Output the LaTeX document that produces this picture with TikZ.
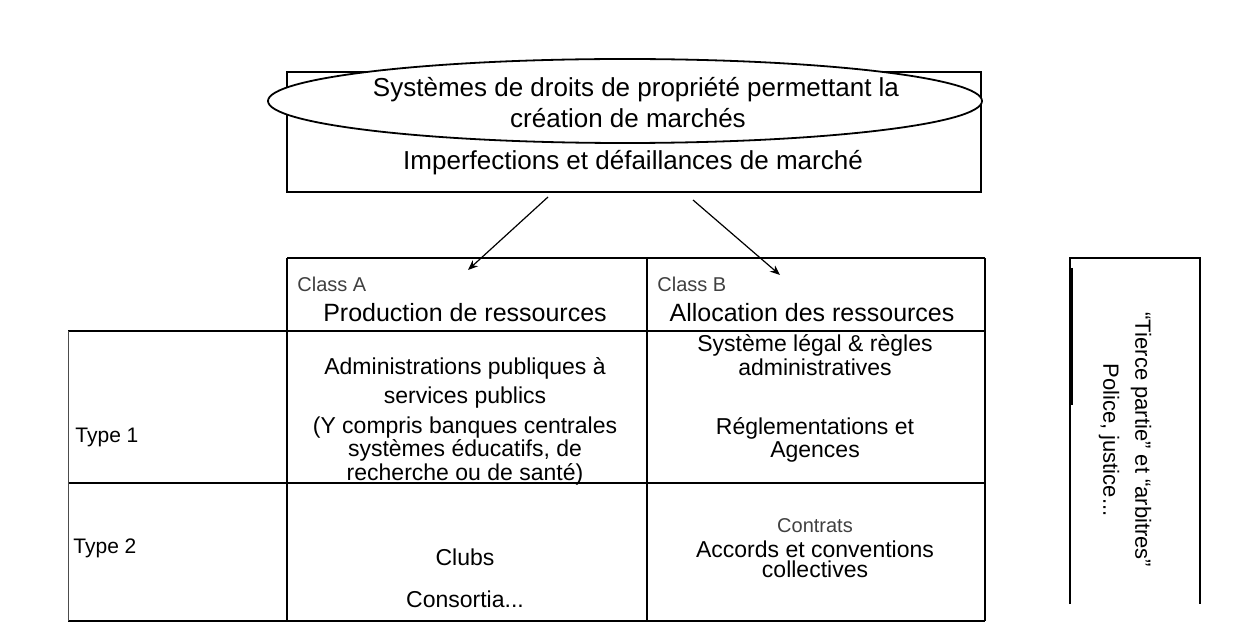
\documentclass[tikz,border=0pt]{standalone}
\usepackage{fontspec}
\setmainfont{Liberation Sans}
\usetikzlibrary{shapes.geometric,arrows.meta}
\begin{document}
\begin{tikzpicture}[x=0.5pt,y=-0.5pt,
  grid/.style={line width=0.9pt,black},
  thin/.style={line width=0.5pt,black!70},
  hand/.style={font=\fontsize{11.5}{10}\selectfont,align=center,inner sep=0pt},
  typed/.style={font=\fontsize{12.5}{14}\selectfont,inner sep=0pt},
  small/.style={font=\fontsize{10}{11}\selectfont,inner sep=0pt,text=black!75},
  arr/.style={-{Stealth[length=5pt,width=4pt]},line width=0.6pt}]
\useasboundingbox (0,0) rectangle (1236,636);
% top box
\node[draw,line width=0.8pt,minimum width=347pt,minimum height=60pt,inner sep=0pt] (box) at (634,132) {};
\node[draw,ellipse,fill=white,line width=0.9pt,minimum width=357pt,minimum height=42pt,inner sep=0pt] (ell) at (625,101) {};
\node[hand,font=\fontsize{13}{14}\selectfont] (e1) at (636,90) {Systèmes de droits de propriété permettant la};
\node[hand,font=\fontsize{13}{14}\selectfont] (e2) at (628,118) {création de marchés};
\node[typed,font=\fontsize{13}{14}\selectfont] (imp) at (633,163) {Imperfections et défaillances de marché};
% table lines
\coordinate (t1) at (287,258); \coordinate (t2) at (985,258);
\coordinate (h1) at (68,331);  \coordinate (h2) at (985,331);
\coordinate (m1) at (68,483);  \coordinate (m2) at (985,483);
\coordinate (b1) at (68,621);  \coordinate (b2) at (985,621);
\coordinate (v1a) at (287,258); \coordinate (v1b) at (287,621);
\coordinate (v2a) at (647,258); \coordinate (v2b) at (647,621);
\coordinate (v3a) at (985,258); \coordinate (v3b) at (985,621);
\coordinate (v0a) at (68,331);  \coordinate (v0b) at (68,621);
\draw[grid] (t1) -- (t2);
\draw[grid] (h1) -- (h2);
\draw[grid] (m1) -- (m2);
\draw[grid] (b1) -- (b2);
\draw[grid] (v1a) -- (v1b);
\draw[grid] (v2a) -- (v2b);
\draw[grid,line width=1.1pt] (v3a) -- (v3b);
\draw[thin] (v0a) -- (v0b);
% header texts
\node[small,anchor=west] (ca) at (297,284) {Class A};
\node[typed] (pa) at (465,313) {Production de ressources};
\node[small,anchor=west] (cb) at (657,284) {Class B};
\node[typed] (pb) at (812,313) {Allocation des ressources};
% arrows
\coordinate (s1) at (548,197); \coordinate (s2) at (693,200);
\coordinate (d1) at (468,270); \coordinate (d2) at (780,275);
\draw[arr] (s1) -- (d1);
\draw[arr] (s2) -- (d2);
% row labels
\node[typed,font=\fontsize{10.5}{12}\selectfont,anchor=west] (ty1) at (75,437) {Type 1};
\node[typed,font=\fontsize{10.5}{12}\selectfont,anchor=west] (ty2) at (73,548) {Type 2};
% cells row 1
\node[hand] (c11a) at (465,368) {Administrations publiques à};
\node[hand] (c11b) at (465,398) {services publics};
\node[hand] (c11c) at (465,451) {(Y compris banques centrales\\systèmes éducatifs, de\\recherche ou de santé)};
\node[hand] (c12a) at (815,355) {Système légal \& règles\\administratives};
\node[hand] (c12b) at (815,440) {Réglementations et\\Agences};
% cells row 2
\node[small] (ct) at (815,526) {Contrats};
\node[hand] (c22) at (815,559) {Accords et conventions\\collectives};
\node[hand] (c21a) at (465,557) {Clubs};
\node[hand] (c21b) at (465,599) {Consortia...};
% right box
\coordinate (r1) at (1070,604); \coordinate (r2) at (1070,258);
\coordinate (r3) at (1200,258); \coordinate (r4) at (1200,604);
\draw[grid] (r1) -- (r2) -- (r3) -- (r4);
\draw[line width=1.6pt] (1071,268) -- (1071,405);
\node[typed,font=\fontsize{11}{16}\selectfont,rotate=-90,align=center] (tp) at (1125,440) {“Tierce partie” et “arbitres”\\Police, justice...};
\end{tikzpicture}
\end{document}
